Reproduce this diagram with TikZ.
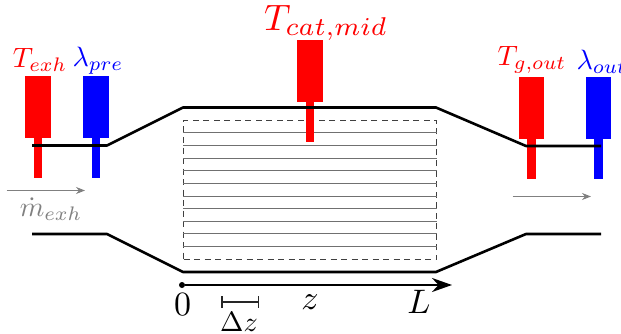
\documentclass[tikz,border=0pt]{standalone}
\usepackage{amsmath}
\usetikzlibrary{arrows.meta, positioning, calc}
\definecolor{flowgray}{HTML}{808080}
\definecolor{slicegray}{HTML}{707070}
\tikzset{
  >={Stealth[length=9pt, width=7pt]},
  %
  pipe/.style={draw=black, line width=2.6pt, line join=round},
  lbl/.style={scale=2.8, inner sep=0pt},
  lblbig/.style={scale=3.4, inner sep=0pt},
  %
  head/.style={rectangle, inner sep=0pt, minimum width=25.5pt, minimum height=62pt},
  stem/.style={rectangle, inner sep=0pt, minimum width=8.5pt, minimum height=40pt, anchor=north, yshift=0.6pt},
  %
  flowarrow/.style={draw=flowgray, line width=1.2pt, ->},
  slice/.style={draw=slicegray, line width=0.9pt},
  cat/.style={rectangle, draw=black!75, line width=1pt, dash pattern=on 6pt off 4.5pt,
              inner sep=0pt, minimum width=253pt, minimum height=139pt},
}
\begin{document}
\begin{tikzpicture}[x=1pt, y=-1pt]
\useasboundingbox (0,0) rectangle (621,334);

% ------------------------------------------------------------------ pipe
\coordinate (tl) at (32,145.5);
\coordinate (tb) at (107,145.5);
\coordinate (tc) at (183,107.5);
\coordinate (td) at (436,107.5);
\coordinate (te) at (526,146);
\coordinate (tr) at (601,146);
\coordinate (bl) at (32,234);
\coordinate (bb) at (107,234);
\coordinate (bc) at (183,272);
\coordinate (bd) at (436,272);
\coordinate (be) at (526,234);
\coordinate (br) at (601,234);

% ------------------------------------------------------------- catalyst
\node[cat] (mono) at (310,190) {};
\foreach \i in {0,...,9} {
  \draw[slice] ($(mono.north west)+(0,12.8+12.63*\i)$) -- ($(mono.north east)+(0,12.8+12.63*\i)$);
}

% -------------------------------------------------------------- sensors
\node[head, fill=red]  (h1) at (38.2,107) {};
\node[stem, fill=red]  (s1) at (h1.south) {};
\node[head, fill=blue] (h2) at (96.2,107) {};
\node[stem, fill=blue] (s2) at (h2.south) {};
\node[head, fill=red]  (h3) at (310,71.5) {};
\node[stem, fill=red]  (s3) at (h3.south) {};
\node[head, fill=red]  (h4) at (531.5,108.3) {};
\node[stem, fill=red]  (s4) at (h4.south) {};
\node[head, fill=blue] (h5) at (598.5,108.3) {};
\node[stem, fill=blue] (s5) at (h5.south) {};

\draw[pipe] (tl) -- (tb) -- (tc) -- (td) -- (te) -- (tr);
\draw[pipe] (bl) -- (bb) -- (bc) -- (bd) -- (be) -- (br);

% --------------------------------------------------------------- labels
\node[lbl, text=red]  (texh) at (40,60) {$T_{exh}$};
\node[lbl, text=blue] (lpre) at (98,60.5) {$\lambda_{pre}$};
\node[lblbig, scale=1.08, text=red]  (tmid) at (326,23) {$T_{cat,mid}$};
\node[lbl, text=red]  (tout) at (532,60) {$T_{g,out}$};
\node[lbl, text=blue, anchor=west] (lout) at (576,61.5) {$\lambda_{out}$};

% ----------------------------------------------------------------- flow
\coordinate (fa) at (6.5,190.5);
\coordinate (fb) at (85,190.5);
\coordinate (fc) at (512.5,196.5);
\coordinate (fd) at (591,196.5);
\draw[flowarrow] (fa) -- (fb);
\draw[flowarrow] (fc) -- (fd);
\node[lbl, text=flowgray] (mexh) at (51,209) {$\dot{m}_{exh}$};

% ----------------------------------------------------------------- axis
\node[circle, fill=black, inner sep=0pt, minimum size=6pt] (orig) at (182,285) {};
\coordinate (axend) at (452,285);
\draw[line width=2.6pt, -{Stealth[length=20pt, width=14pt]}] (orig) -- (axend);
\node[lblbig] (zero) at (182.5,305) {$0$};
\node[lblbig] (zed) at (310,302) {$z$};
\node[lblbig] (ell) at (419,302) {$L$};

\coordinate (da) at (221,302);
\coordinate (db) at (259,302);
\draw[line width=1.5pt, black!85, {Bar[width=12pt]}-{Bar[width=12pt]}] (da) -- (db);
\node[lbl] (dz) at (239,321.5) {$\Delta z$};

\end{tikzpicture}
\end{document}
